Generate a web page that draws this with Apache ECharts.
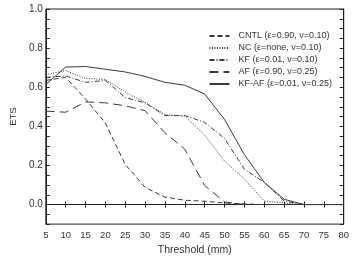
<!DOCTYPE html>
<html>
<head>
<meta charset="utf-8">
<script src="https://cdn.jsdelivr.net/npm/echarts@6/dist/echarts.min.js"></script>
<style>
  html, body { margin: 0; padding: 0; background: #fff; }
  #chart { width: 352px; height: 261px; }
</style>
</head>
<body>
<div id="chart"></div>
<script>
// thresholds (mm)
const thresholds = [5, 10, 15, 20, 25, 30, 35, 40, 45, 50, 55, 60, 65, 70, 75, 80];

const cntl = [0.635, 0.65, 0.54, 0.417, 0.205, 0.088, 0.038, 0.022, 0.017, 0.008, 0.003, 0, 0, 0, 0, 0];
const nc = [0.665, 0.685, 0.645, 0.64, 0.575, 0.522, 0.46, 0.452, 0.355, 0.222, 0.13, 0.018, 0.008, 0, 0, 0];
const kf = [0.65, 0.658, 0.625, 0.635, 0.547, 0.52, 0.455, 0.455, 0.42, 0.338, 0.18, 0.113, 0.018, 0, 0, 0];
const af = [0.478, 0.472, 0.525, 0.52, 0.505, 0.48, 0.367, 0.283, 0.097, 0.013, 0, 0, 0, 0, 0, 0];
const kfaf = [0.613, 0.703, 0.706, 0.692, 0.678, 0.655, 0.625, 0.61, 0.565, 0.435, 0.255, 0.113, 0.027, 0, 0, 0];

const names = [
  'CNTL (\u03b5=0.90, \u03bd=0.10)',
  'NC (\u03b5=none, \u03bd=0.10)',
  'KF (\u03b5=0.01, \u03bd=0.10)',
  'AF (\u03b5=0.90, \u03bd=0.25)',
  'KF-AF (\u03b5=0.01, \u03bd=0.25)'
];

const lineColor = '#3a3a3a';
const font = 'Liberation Sans';

function pairs(vals) {
  return thresholds.map((t, i) => [t, vals[i]]);
}

function makeSeries(name, vals, dash) {
  return {
    name: name,
    type: 'line',
    data: pairs(vals),
    symbol: 'none',
    lineStyle: { color: lineColor, width: 1, type: dash },
    itemStyle: { color: lineColor }
  };
}

const chart = echarts.init(document.getElementById('chart'));
const option = {
  animation: false,
  textStyle: { fontFamily: font },
  grid: { left: 35, right: 2, top: 9, bottom: 31, show: true, borderColor: '#222', borderWidth: 1 },
  legend: {
    orient: 'vertical',
    right: 15,
    top: 26,
    itemWidth: 20,
    itemHeight: 8,
    itemGap: 2,
    itemStyle: { opacity: 0 },
    textStyle: { fontSize: 9, lineHeight: 10, color: '#333', fontFamily: font, padding: [0, 0, 0, 4] },
    data: names
  },
  xAxis: [
    {
      type: 'value', min: 5, max: 80, interval: 5,
      name: 'Threshold (mm)', nameLocation: 'middle', nameGap: 19,
      nameTextStyle: { fontSize: 10.5, color: '#333' },
      axisLine: { lineStyle: { color: '#222' } },
      axisTick: { inside: true, length: 3, lineStyle: { color: '#222' } },
      axisLabel: { fontSize: 9.5, color: '#333', margin: 6 },
      splitLine: { show: false }
    },
    {
      type: 'value', min: 5, max: 80, interval: 5, position: 'top',
      axisLine: { lineStyle: { color: '#222' } },
      axisTick: { inside: true, length: 3, lineStyle: { color: '#222' } },
      axisLabel: { show: false },
      splitLine: { show: false }
    }
  ],
  yAxis: [
    {
      type: 'value', min: -0.1, max: 1.0, interval: 0.05,
      name: 'ETS', nameLocation: 'middle', nameGap: 25,
      nameTextStyle: { fontSize: 9.5, color: '#333' },
      axisLine: { lineStyle: { color: '#222' } },
      axisTick: { inside: true, length: 4, lineStyle: { color: '#222' } },
      axisLabel: { fontSize: 10, color: '#333', margin: 3,
        formatter: v => {
          const k = Math.round(v * 20);
          return (k >= 0 && k % 4 === 0) ? (k / 20).toFixed(1) : '';
        } },
      splitLine: { show: false }
    },
    {
      type: 'value', min: -0.1, max: 1.0, interval: 0.05, position: 'right',
      axisLine: { lineStyle: { color: '#222' } },
      axisTick: { inside: true, length: 4, lineStyle: { color: '#222' } },
      axisLabel: { show: false },
      splitLine: { show: false }
    }
  ],
  series: [
    makeSeries(names[0], cntl, [5, 3]),
    makeSeries(names[1], nc, [1, 1.5]),
    makeSeries(names[2], kf, [5, 2, 1, 2]),
    makeSeries(names[3], af, [9, 5]),
    makeSeries(names[4], kfaf, 'solid')
  ]
};
chart.setOption(option);
</script>
</body>
</html>
